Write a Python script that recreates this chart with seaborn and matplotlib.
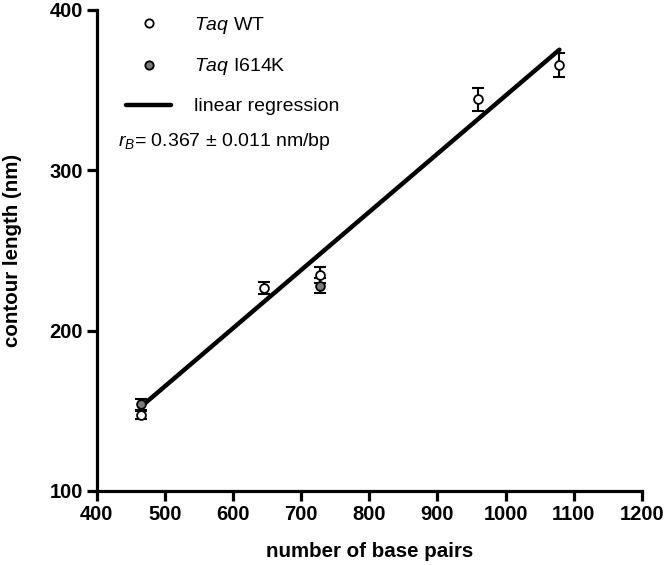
import numpy as np
import pandas as pd
import matplotlib
matplotlib.use("Agg")
import matplotlib.pyplot as plt
from matplotlib.lines import Line2D
import seaborn as sns

sns.set_theme(style="ticks")
plt.rcParams['font.family'] = ['Liberation Sans', 'DejaVu Sans']
plt.rcParams['mathtext.fontset'] = 'custom'
plt.rcParams['mathtext.rm'] = 'Liberation Sans'
plt.rcParams['mathtext.it'] = 'Liberation Sans:italic'
plt.rcParams['text.color'] = 'black'
plt.rcParams['axes.labelcolor'] = 'black'
plt.rcParams['axes.edgecolor'] = 'black'

# Taq WT
bp_wt = [465, 646, 728, 960, 1079]
len_wt = [147.5, 226.5, 234.5, 344.0, 365.5]
err_wt = [2.5, 4.0, 5.0, 7.0, 7.5]

# Taq I614K
bp_mut = [465, 728]
len_mut = [154.0, 228.0]
err_mut = [3.5, 4.5]

# linear regression line (end points)
reg_bp = [465, 1079]
reg_len = [152.5, 375.0]

x_ticks = [400, 500, 600, 700, 800, 900, 1000, 1100, 1200]
y_ticks = [100, 200, 300, 400]

df_wt = pd.DataFrame({"bp": bp_wt, "length": len_wt})
df_mut = pd.DataFrame({"bp": bp_mut, "length": len_mut})
df_reg = pd.DataFrame({"bp": reg_bp, "length": reg_len})

fig = plt.figure(figsize=(6.64, 5.65), dpi=100)
ax = fig.add_axes([0.1456, 0.131, 0.821, 0.852])

sns.lineplot(data=df_reg, x="bp", y="length", color="black", lw=3.2, ax=ax, zorder=2)

ax.errorbar(bp_wt, len_wt, yerr=err_wt, fmt="none", ecolor="black",
            elinewidth=1.5, capsize=4.5, capthick=1.5, zorder=3)
ax.errorbar(bp_mut, len_mut, yerr=err_mut, fmt="none", ecolor="black",
            elinewidth=1.5, capsize=4.5, capthick=1.5, zorder=3)
sns.scatterplot(data=df_wt, x="bp", y="length", s=40, color="white",
                edgecolor="black", linewidth=1.3, ax=ax, zorder=4)
sns.scatterplot(data=df_mut, x="bp", y="length", s=40, color="#7a7a7a",
                edgecolor="black", linewidth=1.3, ax=ax, zorder=5)

ax.set_xlim(400, 1200)
ax.set_ylim(100, 400)
ax.set_xticks(x_ticks)
ax.set_yticks(y_ticks)
for s in ["top", "right"]:
    ax.spines[s].set_visible(False)
for s in ["left", "bottom"]:
    ax.spines[s].set_linewidth(2.3)
    ax.spines[s].set_color("black")
ax.tick_params(width=2.3, length=7, pad=3, labelsize=14.5, colors="black")
for lab in ax.get_xticklabels() + ax.get_yticklabels():
    lab.set_fontweight("bold")

ax.set_xlabel("number of base pairs", fontsize=14.8, fontweight="bold", labelpad=13)
ax.set_ylabel("contour length (nm)", fontsize=14.8, fontweight="bold", labelpad=20)

handles = [
    Line2D([], [], marker="o", ls="none", mfc="white", mec="black", mew=1.3, ms=6),
    Line2D([], [], marker="o", ls="none", mfc="#7a7a7a", mec="black", mew=1.3, ms=6),
    Line2D([], [], color="black", lw=3.2),
]
labels = [r"$\it{Taq}$ WT", r"$\it{Taq}$ I614K", "linear regression"]
leg = ax.legend(handles, labels, loc="upper left", bbox_to_anchor=(0.04, 1.005),
                frameon=False, fontsize=14, handlelength=2.3, handletextpad=1.2,
                labelspacing=1.05, borderaxespad=0)

ax.text(0.04, 0.725, r"$r_B$= 0.367 ± 0.011 nm/bp", transform=ax.transAxes,
        fontsize=14, ha="left", va="center")

fig.savefig("out.png", dpi=100)
